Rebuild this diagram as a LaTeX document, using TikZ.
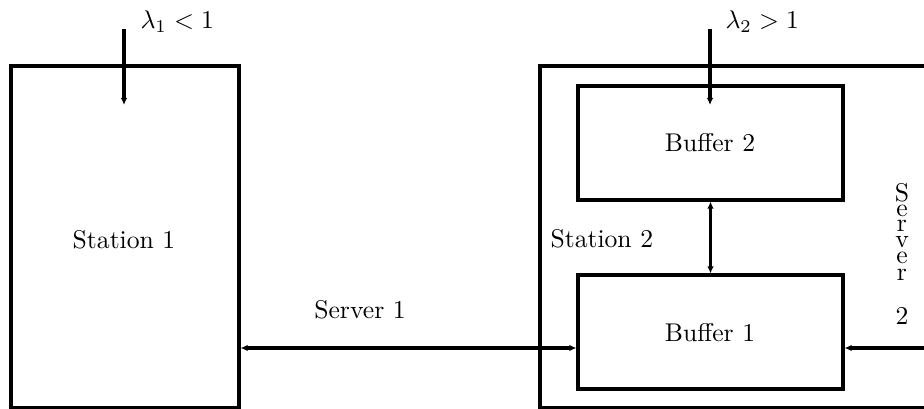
\documentclass[tikz,border=0pt]{standalone}
\usetikzlibrary{arrows.meta}
\begin{document}
\begin{tikzpicture}[x=0.39pt,y=-0.39pt,
  box/.style={draw,line width=1.2pt,inner sep=0pt,rectangle},
  arr/.style={line width=1.2pt,-{Latex[length=2.8pt,width=2.6pt]}},
  darr/.style={line width=1.2pt,{Latex[length=2.8pt,width=2.6pt]}-{Latex[length=2.8pt,width=2.6pt]}},
  lbl/.style={inner sep=0pt,font=\fontsize{10}{12}\selectfont},
  vl/.style={inner sep=0pt,anchor=base,font=\fontsize{10}{12}\selectfont}]
\useasboundingbox (0,0) rectangle (924,409);
\clip (0,0) rectangle (924,409);
% boxes
\node[box,minimum width=88.92pt,minimum height=133.38pt] (s1) at (125,237) {};
\node[box,minimum width=163.8pt,minimum height=133.38pt] (s2) at (750,237) {};
\node[box,minimum width=103.35pt,minimum height=44.46pt] (b2) at (710.5,143) {};
\node[box,minimum width=103.35pt,minimum height=44.46pt] (b1) at (710.5,332) {};
% texts
\node[lbl] (t1) at (124,240) {Station 1};
\node[lbl,anchor=west] (t2) at (550,239) {Station 2};
\node[lbl] (tb2) at (710,143) {Buffer 2};
\node[lbl] (tb1) at (710,333) {Buffer 1};
\node[lbl] (ts1) at (360,310) {Server 1};
\node[lbl,anchor=west] (l1) at (140,22) {$\lambda_1<1$};
\node[lbl,anchor=west] (l2) at (725,22) {$\lambda_2>1$};
\node[vl] (v1) at (902,202) {S};
\node[vl] (v2) at (902,217) {e};
\node[vl] (v3) at (902,232) {r};
\node[vl] (v4) at (902,248) {v};
\node[vl] (v5) at (902,264) {e};
\node[vl] (v6) at (902,281) {r};
\node[vl] (v7) at (902,325) {2};
% connectors
\coordinate (a1s) at (124,29);
\coordinate (a1e) at (124,105);
\coordinate (a2s) at (710,29);
\coordinate (a2e) at (710,105);
\coordinate (srv) at (0,348);
\coordinate (r2) at (940,348);
\draw[arr] (a1s) -- (a1e);
\draw[arr] (a2s) -- (a2e);
\draw[darr] (b2.south) -- (b1.north);
\draw[darr] (s1.east |- srv) -- (b1.west |- srv);
\draw[arr] (r2) -- (b1.east |- r2);
\end{tikzpicture}
\end{document}
